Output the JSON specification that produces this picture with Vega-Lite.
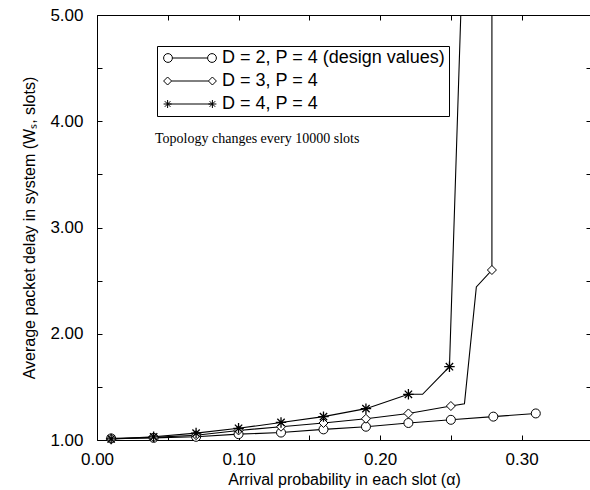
{
  "$schema": "https://vega.github.io/schema/vega-lite/v6.json",
  "width": 494,
  "height": 425,
  "autosize": "none",
  "padding": {"left": 97, "top": 15, "right": 0, "bottom": 50},
  "background": "white",
  "config": {
    "view": {"stroke": "black", "strokeWidth": 1},
    "axis": {
      "domain": false,
      "ticks": false,
      "tickSize": 0,
      "grid": true,
      "gridColor": "black",
      "gridOpacity": 1,
      "gridWidth": 1,
      "labelColor": "black",
      "titleColor": "black",
      "labelFont": "Liberation Sans",
      "titleFont": "Liberation Sans",
      "titleFontWeight": "normal",
      "labelFontSize": 17,
      "titleFontSize": 16,
      "labelFlush": false,
      "labelOverlap": false
    }
  },
  "datasets": {
    "curves": [
      {"i": 0, "s": "D = 2, P = 4 (design values)", "a": 0.01, "w": 1.015, "m": true},
      {"i": 1, "s": "D = 2, P = 4 (design values)", "a": 0.04, "w": 1.02, "m": true},
      {"i": 2, "s": "D = 2, P = 4 (design values)", "a": 0.07, "w": 1.03, "m": true},
      {"i": 3, "s": "D = 2, P = 4 (design values)", "a": 0.10, "w": 1.055, "m": true},
      {"i": 4, "s": "D = 2, P = 4 (design values)", "a": 0.13, "w": 1.07, "m": true},
      {"i": 5, "s": "D = 2, P = 4 (design values)", "a": 0.16, "w": 1.10, "m": true},
      {"i": 6, "s": "D = 2, P = 4 (design values)", "a": 0.19, "w": 1.125, "m": true},
      {"i": 7, "s": "D = 2, P = 4 (design values)", "a": 0.22, "w": 1.16, "m": true},
      {"i": 8, "s": "D = 2, P = 4 (design values)", "a": 0.25, "w": 1.19, "m": true},
      {"i": 9, "s": "D = 2, P = 4 (design values)", "a": 0.28, "w": 1.22, "m": true},
      {"i": 10, "s": "D = 2, P = 4 (design values)", "a": 0.31, "w": 1.25, "m": true},
      {"i": 11, "s": "D = 3, P = 4", "a": 0.01, "w": 1.01, "m": true},
      {"i": 12, "s": "D = 3, P = 4", "a": 0.04, "w": 1.025, "m": true},
      {"i": 13, "s": "D = 3, P = 4", "a": 0.07, "w": 1.045, "m": true},
      {"i": 14, "s": "D = 3, P = 4", "a": 0.10, "w": 1.09, "m": true},
      {"i": 15, "s": "D = 3, P = 4", "a": 0.13, "w": 1.125, "m": true},
      {"i": 16, "s": "D = 3, P = 4", "a": 0.16, "w": 1.16, "m": true},
      {"i": 17, "s": "D = 3, P = 4", "a": 0.19, "w": 1.20, "m": true},
      {"i": 18, "s": "D = 3, P = 4", "a": 0.22, "w": 1.25, "m": true},
      {"i": 19, "s": "D = 3, P = 4", "a": 0.25, "w": 1.32, "m": true},
      {"i": 20, "s": "D = 3, P = 4", "a": 0.2596, "w": 1.34, "m": false},
      {"i": 21, "s": "D = 3, P = 4", "a": 0.268, "w": 2.44, "m": false},
      {"i": 22, "s": "D = 3, P = 4", "a": 0.279, "w": 2.6, "m": true},
      {"i": 23, "s": "D = 3, P = 4", "a": 0.279, "w": 5.0, "m": false},
      {"i": 24, "s": "D = 4, P = 4", "a": 0.01, "w": 1.01, "m": true},
      {"i": 25, "s": "D = 4, P = 4", "a": 0.04, "w": 1.03, "m": true},
      {"i": 26, "s": "D = 4, P = 4", "a": 0.07, "w": 1.065, "m": true},
      {"i": 27, "s": "D = 4, P = 4", "a": 0.10, "w": 1.11, "m": true},
      {"i": 28, "s": "D = 4, P = 4", "a": 0.13, "w": 1.165, "m": true},
      {"i": 29, "s": "D = 4, P = 4", "a": 0.16, "w": 1.22, "m": true},
      {"i": 30, "s": "D = 4, P = 4", "a": 0.19, "w": 1.295, "m": true},
      {"i": 31, "s": "D = 4, P = 4", "a": 0.22, "w": 1.43, "m": true},
      {"i": 32, "s": "D = 4, P = 4", "a": 0.23, "w": 1.43, "m": false},
      {"i": 33, "s": "D = 4, P = 4", "a": 0.249, "w": 1.69, "m": true},
      {"i": 34, "s": "D = 4, P = 4", "a": 0.257, "w": 5.0, "m": false}
    ],
    "note": [
      {"label": "Topology changes every 10000 slots", "a": 0.041, "w": 3.795}
    ]
  },
  "layer": [
    {
      "data": {"name": "curves"},
      "mark": {"type": "line", "color": "black", "strokeWidth": 1.1},
      "encoding": {
        "x": {
          "field": "a", "type": "quantitative",
          "scale": {"domain": [0, 0.349], "nice": false, "zero": false},
          "axis": {
            "orient": "bottom",
            "values": [0, 0.05, 0.1, 0.15, 0.2, 0.25, 0.3],
            "format": ".2f",
            "labelExpr": "abs(datum.value*10 - round(datum.value*10)) < 0.001 ? datum.label : ''",
            "labelPadding": 11,
            "gridDash": [5, 415, 5, 1000],
            "title": "Arrival probability in each slot (α)",
            "titlePadding": 4
          }
        },
        "y": {
          "field": "w", "type": "quantitative",
          "scale": {"domain": [1, 5], "nice": false, "zero": false},
          "axis": {
            "orient": "left",
            "values": [1, 1.5, 2, 2.5, 3, 3.5, 4, 4.5, 5],
            "format": ".2f",
            "labelExpr": "abs(datum.value - round(datum.value)) < 0.001 ? datum.label : ''",
            "labelPadding": 14,
            "gridDash": [5, 484, 5, 1000],
            "title": "Average packet delay in system (Wₛ, slots)",
            "titlePadding": 12
          }
        },
        "detail": {"field": "s", "type": "nominal"},
        "order": {"field": "i", "type": "quantitative"}
      }
    },
    {
      "data": {"name": "curves"},
      "transform": [{"filter": "datum.m && datum.s === 'D = 2, P = 4 (design values)'"}],
      "mark": {"type": "point", "shape": "circle", "filled": true, "fill": "white", "stroke": "black", "strokeWidth": 1, "size": 81, "opacity": 1},
      "encoding": {
        "x": {"field": "a", "type": "quantitative", "axis": null},
        "y": {"field": "w", "type": "quantitative", "axis": null}
      }
    },
    {
      "data": {"name": "curves"},
      "transform": [{"filter": "datum.m && datum.s === 'D = 3, P = 4'"}],
      "mark": {"type": "point", "shape": "diamond", "filled": true, "fill": "white", "stroke": "black", "strokeWidth": 1, "size": 81, "opacity": 1},
      "encoding": {
        "x": {"field": "a", "type": "quantitative", "axis": null},
        "y": {"field": "w", "type": "quantitative", "axis": null}
      }
    },
    {
      "data": {"name": "curves"},
      "transform": [{"filter": "datum.m && datum.s === 'D = 4, P = 4'"}],
      "mark": {"type": "point", "shape": "M0,-1L0,1M-1,0L1,0M-0.7,-0.7L0.7,0.7M-0.7,0.7L0.7,-0.7", "filled": false, "stroke": "black", "strokeWidth": 1.3, "size": 110, "opacity": 1},
      "encoding": {
        "x": {"field": "a", "type": "quantitative", "axis": null},
        "y": {"field": "w", "type": "quantitative", "axis": null}
      }
    },
    {
      "data": {"name": "curves"},
      "transform": [{"filter": "false"}],
      "mark": {"type": "point", "filled": true, "fill": "white", "stroke": "black", "strokeWidth": 1, "opacity": 1},
      "encoding": {
        "x": {"field": "a", "type": "quantitative", "axis": null},
        "y": {"field": "w", "type": "quantitative", "axis": null},
        "shape": {
          "field": "s", "type": "nominal",
          "scale": {
            "domain": ["D = 2, P = 4 (design values)", "D = 3, P = 4", "D = 4, P = 4"],
            "range": [
              "M-2.2,0L2.2,0M-2.2,0A0.55,0.55,0,1,1,-3.3,0A0.55,0.55,0,1,1,-2.2,0ZM3.3,0A0.55,0.55,0,1,1,2.2,0A0.55,0.55,0,1,1,3.3,0Z",
              "M-2.3,0L2.3,0M-3.3,0L-2.8,-0.5L-2.3,0L-2.8,0.5ZM2.3,0L2.8,-0.5L3.3,0L2.8,0.5Z",
              "M-2.8,0L2.8,0M-2.8,-0.5L-2.8,0.5M-3.3,0L-2.3,0M-3.15,-0.35L-2.45,0.35M-3.15,0.35L-2.45,-0.35M2.8,-0.5L2.8,0.5M2.3,0L3.3,0M2.45,-0.35L3.15,0.35M2.45,0.35L3.15,-0.35"
            ]
          },
          "legend": {
            "orient": "none",
            "legendX": 60,
            "legendY": 31,
            "title": null,
            "strokeColor": "black",
            "fillColor": "white",
            "padding": 3,
            "rowPadding": 5,
            "labelFont": "Liberation Sans",
            "labelFontSize": 18,
            "labelColor": "black",
            "labelLimit": 400,
            "symbolSize": 256,
            "symbolOffset": 21,
            "labelOffset": 23,
            "symbolFillColor": "white",
            "symbolStrokeColor": "black",
            "symbolStrokeWidth": 1,
            "symbolOpacity": 1,
            "encoding": {
              "symbols": {
                "fill": {"value": "white"},
                "stroke": {"value": "black"},
                "strokeWidth": {"value": 1},
                "opacity": {"value": 1}
              }
            }
          }
        }
      }
    },
    {
      "data": {"name": "note"},
      "mark": {"type": "text", "font": "Liberation Serif", "fontSize": 14, "align": "left", "baseline": "alphabetic", "color": "black"},
      "encoding": {
        "x": {"field": "a", "type": "quantitative", "axis": null},
        "y": {"field": "w", "type": "quantitative", "axis": null},
        "text": {"field": "label", "type": "nominal"}
      }
    }
  ],
  "resolve": {"axis": {"x": "independent", "y": "independent"}}
}
